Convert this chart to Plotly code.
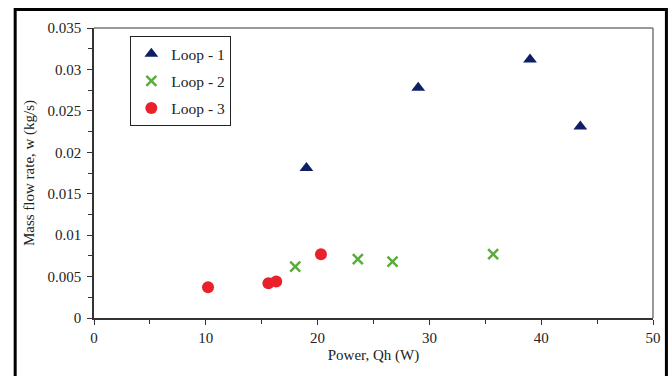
import plotly.graph_objects as go

loop1_x = [19.0, 29.0, 39.0, 43.5]
loop1_y = [0.0181, 0.0278, 0.0312, 0.0231]
loop2_x = [18.0, 23.6, 26.7, 35.7]
loop2_y = [0.0062, 0.0071, 0.0068, 0.0077]
loop3_x = [10.2, 15.6, 16.3, 20.3]
loop3_y = [0.0037, 0.0042, 0.0044, 0.0077]

font = "Liberation Serif"
txt = "#222222"
fig = go.Figure()
fig.add_trace(go.Scatter(x=loop1_x, y=loop1_y, mode="markers", name="Loop - 1", legendgroup="a",
                         marker=dict(symbol="triangle-up", size=12, color="#0f1f64")))
fig.add_trace(go.Scatter(x=loop2_x, y=loop2_y, mode="markers", name="Loop - 2", legendgroup="b",
                         marker=dict(symbol="x-thin", size=10, color="#5aac3c", line=dict(width=2.5, color="#5aac3c"))))
fig.add_trace(go.Scatter(x=loop3_x, y=loop3_y, mode="markers", name="Loop - 3", legendgroup="c",
                         marker=dict(symbol="circle", size=12, color="#e8212b")))

axis_common = dict(showline=True, linecolor="#333", linewidth=1.5, mirror=False, ticks="outside",
                   ticklen=5, tickwidth=1, tickcolor="#333", showgrid=False, zeroline=False,
                   tickfont=dict(family=font, size=15, color=txt))
fig.update_xaxes(range=[0, 50], dtick=10, title=dict(text="Power, Qh (W)", font=dict(family=font, size=15, color=txt), standoff=5),
                 minor=dict(dtick=5, ticks="outside", ticklen=4, tickcolor="#333"), **axis_common)
fig.update_yaxes(range=[0, 0.035], dtick=0.005, title=dict(text="Mass flow rate, w (kg/s)", font=dict(family=font, size=15, color=txt), standoff=9),
                 tickformat="~g", ticklabelstandoff=3,
                 minor=dict(dtick=0.0025, ticks="outside", ticklen=4, tickcolor="#333"), **axis_common)

fig.update_layout(
    template="none",
    width=672, height=376, margin=dict(l=94, r=19, t=28, b=58),
    paper_bgcolor="white", plot_bgcolor="white",
    font=dict(family=font, size=15, color=txt),
    legend=dict(x=0.065, y=0.972, xanchor="left", yanchor="top", bordercolor="#222", borderwidth=1,
                font=dict(family=font, size=15.5, color=txt), tracegroupgap=4, itemwidth=30),
    shapes=[
        dict(type="line", xref="paper", yref="paper", x0=0, x1=1, y0=1, y1=1, line=dict(color="#777", width=1.5)),
        dict(type="line", xref="paper", yref="paper", x0=1, x1=1, y0=0, y1=1, line=dict(color="#777", width=1.5)),
        dict(type="rect", xref="paper", yref="paper", x0=-0.141, x1=1.024, y0=-0.25, y1=1.064,
             line=dict(color="black", width=3)),
    ],
)
fig.write_html("out.html")
